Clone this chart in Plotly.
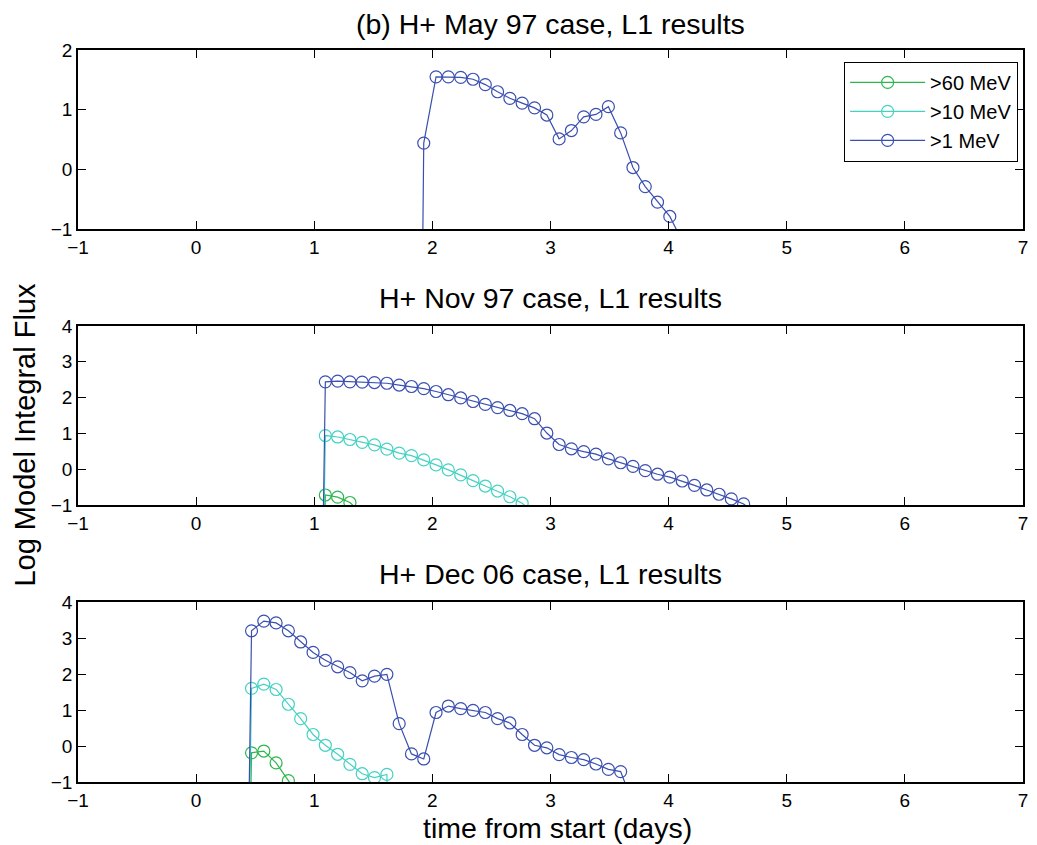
import plotly.graph_objects as go

FONT = "Liberation Sans, Arial, Helvetica, sans-serif"

series_names = [">60 MeV", ">10 MeV", ">1 MeV"]
series_colors = {">60 MeV": "#2db64e", ">10 MeV": "#44d2c2", ">1 MeV": "#3a4fb0"}

panel_titles = ["(b) H+ May 97 case, L1 results",
                "H+ Nov 97 case, L1 results",
                "H+ Dec 06 case, L1 results"]

x_ticks = [-1, 0, 1, 2, 3, 4, 5, 6, 7]
x_tick_labels = ["\u22121", "0", "1", "2", "3", "4", "5", "6", "7"]

# ---- Panel 1: May 97 ----
may_t_1mev = [1.823, 1.927, 2.031, 2.135, 2.240, 2.344, 2.448, 2.552, 2.656, 2.760,
              2.865, 2.969, 3.073, 3.177, 3.281, 3.385, 3.490, 3.594, 3.698, 3.802,
              3.906, 4.010, 4.115]
may_v_1mev = [-20, 0.44, 1.55, 1.55, 1.54, 1.51, 1.42, 1.30, 1.19, 1.11,
              1.03, 0.91, 0.51, 0.65, 0.88, 0.92, 1.05, 0.61, 0.03, -0.29,
              -0.55, -0.79, -1.2]

# ---- Panel 2: Nov 97 ----
nov_t_60mev = [0.990, 1.094, 1.198, 1.302, 1.406]
nov_v_60mev = [-20, -0.72, -0.78, -0.93, -1.25]

nov_t_10mev = [0.990, 1.094, 1.198, 1.302, 1.406, 1.510, 1.615, 1.719, 1.823, 1.927,
               2.031, 2.135, 2.240, 2.344, 2.448, 2.552, 2.656, 2.760, 2.865]
nov_v_10mev = [-20, 0.94, 0.90, 0.83, 0.75, 0.68, 0.56, 0.45, 0.38, 0.26,
               0.12, -0.02, -0.16, -0.32, -0.47, -0.61, -0.77, -0.95, -1.25]

nov_t_1mev = [0.990, 1.094, 1.198, 1.302, 1.406, 1.510, 1.615, 1.719, 1.823, 1.927,
              2.031, 2.135, 2.240, 2.344, 2.448, 2.552, 2.656, 2.760, 2.865, 2.969,
              3.073, 3.177, 3.281, 3.385, 3.490, 3.594, 3.698, 3.802, 3.906, 4.010,
              4.115, 4.219, 4.323, 4.427, 4.531, 4.635, 4.740]
nov_v_1mev = [-20, 2.44, 2.46, 2.44, 2.43, 2.42, 2.40, 2.35, 2.31, 2.25,
              2.17, 2.08, 1.99, 1.89, 1.81, 1.72, 1.64, 1.55, 1.41, 1.01,
              0.69, 0.57, 0.49, 0.42, 0.29, 0.18, 0.08, -0.04, -0.14, -0.22,
              -0.33, -0.45, -0.58, -0.70, -0.83, -0.97, -1.25]

# ---- Panel 3: Dec 06 ----
dec_t_60mev = [0.365, 0.469, 0.573, 0.677, 0.781, 0.885]
dec_v_60mev = [-20, -0.19, -0.14, -0.47, -0.96, -1.5]

dec_t_10mev = [0.365, 0.469, 0.573, 0.677, 0.781, 0.885, 0.990, 1.094, 1.198, 1.302,
               1.406, 1.510, 1.615, 1.719]
dec_v_10mev = [-20, 1.60, 1.72, 1.57, 1.16, 0.76, 0.32, 0.02, -0.23, -0.51,
               -0.77, -0.88, -0.79, -20]

dec_t_1mev = [0.365, 0.469, 0.573, 0.677, 0.781, 0.885, 0.990, 1.094, 1.198, 1.302,
              1.406, 1.510, 1.615, 1.719, 1.823, 1.927, 2.031, 2.135, 2.240, 2.344,
              2.448, 2.552, 2.656, 2.760, 2.865, 2.969, 3.073, 3.177, 3.281, 3.385,
              3.490, 3.594, 3.698]
dec_v_1mev = [-20, 3.20, 3.47, 3.42, 3.20, 2.89, 2.60, 2.38, 2.20, 2.04,
              1.81, 1.94, 1.99, 0.62, -0.22, -0.36, 0.93, 1.11, 1.04, 0.99,
              0.93, 0.76, 0.64, 0.32, 0.02, -0.05, -0.24, -0.32, -0.38, -0.50,
              -0.65, -0.71, -1.6]

panels = [
    [(">1 MeV", may_t_1mev, may_v_1mev)],
    [(">60 MeV", nov_t_60mev, nov_v_60mev), (">10 MeV", nov_t_10mev, nov_v_10mev),
     (">1 MeV", nov_t_1mev, nov_v_1mev)],
    [(">60 MeV", dec_t_60mev, dec_v_60mev), (">10 MeV", dec_t_10mev, dec_v_10mev),
     (">1 MeV", dec_t_1mev, dec_v_1mev)],
]
y_ranges = [[-1, 2], [-1, 4], [-1, 4]]
domains = [[0.7555, 1.0], [0.3784, 0.6230], [0.0, 0.2459]]
# title centres (paper fraction); plot area spans 42..774 px of the 837 px figure
title_y = [(774 - 16.5) / 732, (774 - 290) / 732, (774 - 566) / 732]

fig = go.Figure()
for i, series in enumerate(panels):
    ax = "" if i == 0 else str(i + 1)
    for name, t, v in series:
        fig.add_trace(go.Scatter(
            x=t, y=v, mode="lines+markers", name=name,
            xaxis="x" + ax, yaxis="y" + ax,
            line=dict(color=series_colors[name], width=1.2),
            marker=dict(symbol="circle-open", size=12,
                        color=series_colors[name], line=dict(width=1.2)),
            showlegend=(i == 1),
            cliponaxis=True,
        ))

common_axis = dict(showline=True, linecolor="black", linewidth=1.5, mirror="ticks",
                   ticks="inside", ticklen=8, tickwidth=1.3, tickcolor="black",
                   showgrid=False, zeroline=False,
                   tickfont=dict(family=FONT, size=19, color="black"))

layout = dict(
    width=1029, height=837,
    margin=dict(l=70, r=9, t=42, b=63),
    paper_bgcolor="white", plot_bgcolor="white",
    font=dict(family=FONT, color="black"),
    legend=dict(x=0.8105, y=0.984, xanchor="left", yanchor="top",
                bgcolor="white", bordercolor="black", borderwidth=1.2,
                font=dict(family=FONT, size=20, color="black"),
                itemwidth=75, tracegroupgap=0),
    annotations=[],
)
for i in range(3):
    ax = "" if i == 0 else str(i + 1)
    layout["xaxis" + ax] = dict(common_axis, range=[-1, 7], tickvals=x_ticks,
                                ticktext=x_tick_labels,
                                anchor="y" + ax, domain=[0, 1])
    yr = y_ranges[i]
    yt = list(range(yr[0], yr[1] + 1))
    layout["yaxis" + ax] = dict(common_axis, range=yr, tickvals=yt,
                                ticktext=[("\u2212" + str(-k)) if k < 0 else str(k) for k in yt],
                                anchor="x" + ax, domain=domains[i])
    layout["annotations"].append(dict(
        text=panel_titles[i], xref="paper", yref="paper", x=0.5, y=title_y[i],
        xanchor="center", yanchor="middle", showarrow=False,
        font=dict(family=FONT, size=28.5, color="black")))

layout["annotations"].append(dict(
    text="Log Model Integral Flux", xref="paper", yref="paper", x=(17 - 70) / 950,
    y=0.475, xanchor="center", yanchor="middle", textangle=-90, showarrow=False,
    font=dict(family=FONT, size=29, color="black")))
layout["annotations"].append(dict(
    text="time from start (days)", xref="paper", yref="paper", x=0.507,
    y=(774 - 820) / 732, xanchor="center", yanchor="middle", showarrow=False,
    font=dict(family=FONT, size=28.5, color="black")))

fig.update_layout(**layout)
fig.write_html("out.html")
